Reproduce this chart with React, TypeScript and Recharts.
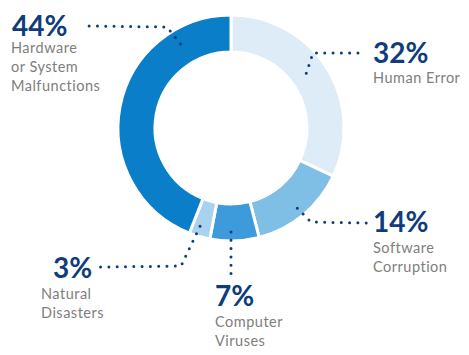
import { PieChart, Pie, Cell } from "recharts";

// slices run clockwise from 12 o'clock
const categories = [
  "Human Error",
  "Software Corruption",
  "Computer Viruses",
  "Natural Disasters",
  "Hardware or System Malfunctions",
];
const shares = [32, 14, 7, 3, 44];
const labelLines = [
  ["Human Error"],
  ["Software", "Corruption"],
  ["Computer", "Viruses"],
  ["Natural", "Disasters"],
  ["Hardware", "or System", "Malfunctions"],
];

const colors = ["#ddecf7", "#7fbfe6", "#3d9bdb", "#a9d2ef", "#0a7ec8"];
const NAVY = "#0e3c7c";
const GREY = "#7e7e7e";

// leader / text placement, relative to the pie centre
type Place = {
  angle?: number;
  r: number;
  bend?: [number, number];
  end: [number, number];
  tx: number;
  ty: number;
  sx: number;
  sy: number;
};
const places: Place[] = [
  { angle: 36, r: 93, bend: [82, -75], end: [127, -75], tx: 142, ty: -65, sx: 142, sy: -45 },
  { r: 104, bend: [80, 94], end: [136, 95], tx: 142, ty: 104, sx: 142, sy: 125 },
  { angle: -90, r: 104, end: [0, 146], tx: -16, ty: 178, sx: -16, sy: 199 },
  { angle: -107.5, r: 103, bend: [-50, 138], end: [-131, 139], tx: -178, ty: 150, sx: -190, sy: 171 },
  { angle: 121, r: 98, bend: [-64, -101], end: [-143, -102], tx: -219, ty: -92, sx: -220, sy: -75 },
];

const data = categories.map((name, i) => ({ name, value: shares[i] }));

const RAD = Math.PI / 180;

function renderLabel(props: any) {
  const { cx, cy, midAngle, index, value } = props;
  const p = places[index];
  const a = (p.angle ?? midAngle) * RAD;
  const ax = cx + p.r * Math.cos(a);
  const ay = cy - p.r * Math.sin(a);
  const pts = [[ax, ay]];
  if (p.bend) pts.push([cx + p.bend[0], cy + p.bend[1]]);
  pts.push([cx + p.end[0], cy + p.end[1]]);
  const d = pts.map((q, k) => `${k ? "L" : "M"}${q[0]},${q[1]}`).join(" ");
  return (
    <g key={`lbl-${index}`}>
      <path
        d={d}
        fill="none"
        stroke={NAVY}
        strokeWidth={3}
        strokeDasharray="0 8.3"
        strokeLinecap="round"
      />
      <text
        x={cx + p.tx}
        y={cy + p.ty}
        fill={NAVY}
        fontSize={28}
        fontWeight={700}
        fontFamily="Lato"
      >
        {value}%
      </text>
      {labelLines[index].map((ln, k) => (
        <text
          key={k}
          x={cx + p.sx}
          y={cy + p.sy + k * 19}
          fill={GREY}
          fontSize={14.5}
          letterSpacing={0.5}
          fontFamily="Lato"
        >
          {ln}
        </text>
      ))}
    </g>
  );
}

export default function App() {
  return (
    <div style={{ position: "absolute", left: 0, top: 0, background: "#fff" }}>
      <PieChart width={469} height={355} margin={{ top: 0, right: 0, bottom: 0, left: 0 }}>
        <Pie
          data={data}
          dataKey="value"
          nameKey="name"
          cx={231}
          cy={128}
          innerRadius={76}
          outerRadius={113}
          startAngle={90}
          endAngle={-270}
          stroke="#fff"
          strokeWidth={3}
          label={renderLabel}
          labelLine={false}
          isAnimationActive={false}
        >
          {data.map((d, i) => (
            <Cell key={d.name} fill={colors[i]} />
          ))}
        </Pie>
      </PieChart>
    </div>
  );
}
